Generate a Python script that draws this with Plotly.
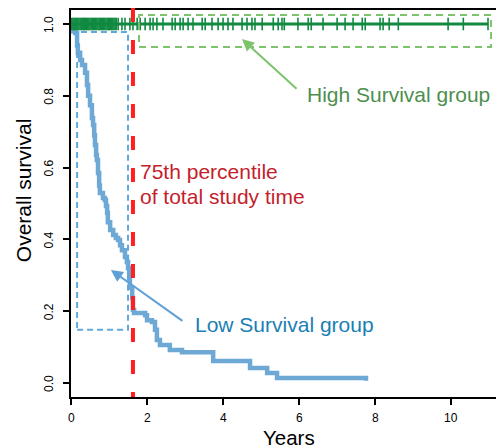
import plotly.graph_objects as go

# Low survival group: Kaplan-Meier step points (years, survival)
low_time = [0.0, 0.05, 0.11, 0.16, 0.18, 0.24, 0.29, 0.37, 0.42, 0.45, 0.50, 0.55, 0.58,
            0.61, 0.63, 0.66, 0.68, 0.71, 0.74, 0.76, 0.84, 0.89, 0.92, 0.95, 0.97, 1.03,
            1.11, 1.18, 1.24, 1.29, 1.34, 1.42, 1.47, 1.50, 1.53, 1.55, 1.61, 1.63, 1.66,
            1.95, 2.00, 2.13, 2.21, 2.26, 2.34, 2.60, 2.92, 3.74, 4.71, 5.16, 5.42, 7.76]
low_surv = [1.0, 0.98, 0.975, 0.94, 0.92, 0.90, 0.886, 0.864, 0.83, 0.80, 0.774, 0.738, 0.719,
            0.69, 0.663, 0.635, 0.621, 0.585, 0.55, 0.529, 0.515, 0.51, 0.493, 0.474, 0.448, 0.426,
            0.412, 0.404, 0.398, 0.384, 0.37, 0.351, 0.337, 0.32, 0.292, 0.265, 0.237, 0.203, 0.195,
            0.189, 0.175, 0.17, 0.148, 0.12, 0.106, 0.092, 0.086, 0.061, 0.042, 0.028, 0.014, 0.006]

# High survival group: survival stays at 1; censoring times (years)
high_line_x = [0.0, 10.97]
high_line_y = [1.0, 1.0]
high_censor = [0.02, 0.05, 0.08, 0.10, 0.13, 0.15, 0.18, 0.21, 0.24, 0.27, 0.30, 0.33, 0.35,
               0.38, 0.41, 0.44, 0.47, 0.50, 0.53, 0.56, 0.59, 0.62, 0.65, 0.68, 0.71, 0.74,
               0.77, 0.80, 0.83, 0.86, 0.89, 0.92, 0.95, 0.98, 1.01, 1.04, 1.07, 1.10, 1.13,
               1.16, 1.19, 1.24, 1.34, 1.42, 1.55, 1.63, 1.74, 1.82, 1.95, 2.08, 2.16, 2.26,
               2.42, 2.66, 2.74, 2.87, 2.95, 3.08, 3.21, 3.45, 3.53, 3.71, 3.87, 4.00, 4.13,
               4.26, 4.50, 4.63, 4.76, 4.84, 5.03, 5.32, 5.45, 5.55, 5.61, 5.97, 6.24, 6.32,
               6.63, 7.00, 7.21, 7.42, 7.66, 7.74, 8.13, 8.21, 8.37, 8.61, 9.92, 10.32, 10.97]
high_censor_y = [1.0] * len(high_censor)

x_ticks = [0, 2, 4, 6, 8, 10]
x_tick_labels = ["0", "2", "4", "6", "8", "10"]
y_ticks = [0.0, 0.2, 0.4, 0.6, 0.8, 1.0]
y_tick_labels = ["0.0", "0.2", "0.4", "0.6", "0.8", "1.0"]

cutoff = 1.63  # 75th percentile of total study time

FONT = "Liberation Sans, Arial, Helvetica, sans-serif"

fig = go.Figure()
fig.add_trace(go.Scatter(x=low_time, y=low_surv, mode="lines", line_shape="hv",
                         line=dict(color="#6ea8d5", width=4.5), showlegend=False))
fig.add_trace(go.Scatter(x=high_line_x, y=high_line_y, mode="lines",
                         line=dict(color="#118a41", width=3), showlegend=False))
fig.add_trace(go.Scatter(x=high_censor, y=high_censor_y, mode="markers",
                         marker=dict(symbol="line-ns", size=9,
                                     line=dict(color="#118a41", width=1.6)),
                         showlegend=False))

# highlight boxes
fig.add_shape(type="rect", x0=0.16, x1=1.50, y0=0.148, y1=0.978,
              line=dict(color="#5ea9e0", width=2, dash="6px,4px"), layer="above")
fig.add_shape(type="rect", x0=1.79, x1=11.05, y0=0.936, y1=1.025,
              line=dict(color="#7dc36b", width=2, dash="7px,5px"), layer="above")
# cutoff line
fig.add_shape(type="line", x0=cutoff, x1=cutoff, yref="paper", y0=1.005, y1=0.0,
              line=dict(color="#ff1f1f", width=4, dash="14px,18px"), layer="above")

# tick labels (R style: rotated y labels)
for v, t in zip(x_ticks, x_tick_labels):
    fig.add_annotation(x=v, xref="x", yref="paper", y=-0.054, text=t, showarrow=False,
                       xanchor="center", yanchor="middle",
                       font=dict(family=FONT, size=12, color="black"))
for v, t in zip(y_ticks, y_tick_labels):
    fig.add_annotation(y=v, yref="y", xref="paper", x=-0.0518, text=t, showarrow=False,
                       textangle=-90, xanchor="center", yanchor="middle",
                       font=dict(family=FONT, size=12, color="black"))

# annotations
fig.add_annotation(x=cutoff + 0.12, y=0.59, text="75th percentile", showarrow=False,
                   xanchor="left", yanchor="middle",
                   font=dict(family=FONT, size=21, color="#c41e2c"))
fig.add_annotation(x=cutoff + 0.12, y=0.52, text="of total study time", showarrow=False,
                   xanchor="left", yanchor="middle",
                   font=dict(family=FONT, size=21, color="#c41e2c"))
fig.add_annotation(x=4.5, y=0.958, ax=56, ay=51, text="", showarrow=True,
                   arrowhead=2, arrowsize=1.2, arrowwidth=2, arrowcolor="#7dc36b")
fig.add_annotation(x=6.16, y=0.805, text="High Survival group", showarrow=False,
                   xanchor="left", yanchor="middle",
                   font=dict(family=FONT, size=21, color="#4d8f4d"))
fig.add_annotation(x=1.05, y=0.315, ax=73, ay=52, text="", showarrow=True,
                   arrowhead=2, arrowsize=1.2, arrowwidth=2, arrowcolor="#5ea0d6")
fig.add_annotation(x=3.21, y=0.162, text="Low Survival group", showarrow=False,
                   xanchor="left", yanchor="middle",
                   font=dict(family=FONT, size=21, color="#1a7fb5"))

# axis titles
fig.add_annotation(xref="paper", yref="paper", x=-0.111, y=0.534, text="Overall survival",
                   showarrow=False, textangle=-90, xanchor="center", yanchor="middle",
                   font=dict(family=FONT, size=21, color="black"))
fig.add_annotation(xref="paper", yref="paper", x=0.514, y=-0.1035, text="Years",
                   showarrow=False, xanchor="center", yanchor="middle",
                   font=dict(family=FONT, size=20.5, color="black"))

fig.update_layout(
    width=496, height=448,
    margin=dict(l=71, r=0, t=10, b=51),
    plot_bgcolor="white", paper_bgcolor="white",
    font=dict(family=FONT, size=11, color="black"),
    xaxis=dict(range=[0, 11.18], tickvals=x_ticks, showgrid=False, zeroline=False,
               showline=True, linecolor="black", linewidth=2, mirror=True,
               ticks="outside", ticklen=6, tickwidth=1.5, tickcolor="black",
               showticklabels=False),
    yaxis=dict(range=[-0.039, 1.039], tickvals=y_ticks,
               showgrid=False, zeroline=False, showline=True, linecolor="black",
               linewidth=2, ticks="outside", ticklen=6, tickwidth=1.5,
               tickcolor="black", showticklabels=False),
)

fig.write_html("out.html")
